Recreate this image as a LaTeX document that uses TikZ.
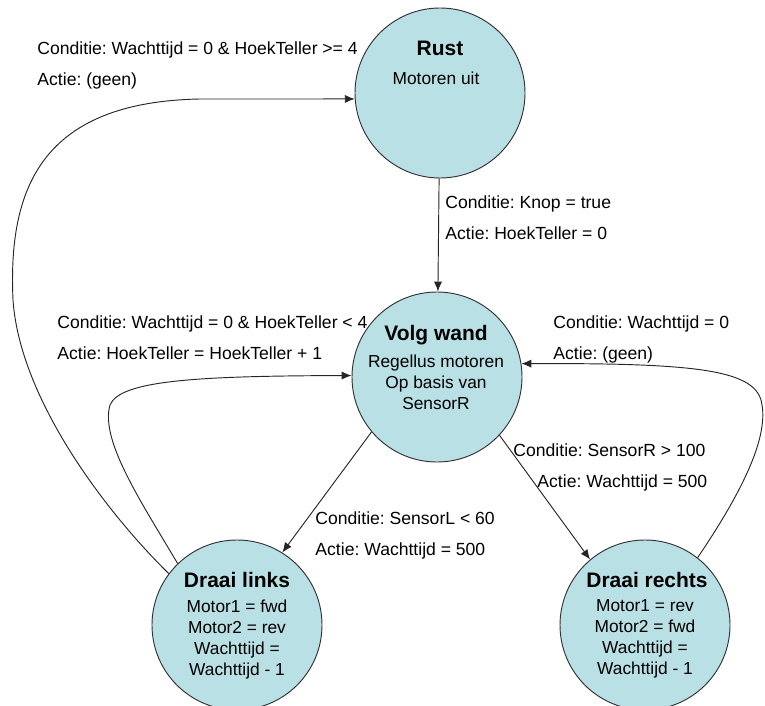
\documentclass[tikz,border=0pt]{standalone}
\usepackage{fontspec}
\setmainfont{Liberation Sans}
\usetikzlibrary{arrows.meta}
\frenchspacing

\definecolor{toestandblauw}{RGB}{185,224,228}

\tikzset{
  toestand/.style={circle, draw=black!80, fill=toestandblauw, line width=0.8pt, minimum size=5.1cm, inner sep=0pt},
  titel/.style={font=\fontsize{17.9}{21}\selectfont\bfseries, inner sep=0pt, anchor=north},
  tekst/.style={font=\fontsize{14.8}{17.9}\selectfont, align=center, inner sep=0pt, anchor=north},
  overgang/.style={font=\fontsize{15}{26.4}\selectfont, align=left, inner sep=0pt, anchor=north west}
}

\begin{document}
\begin{tikzpicture}[x=0.03cm, y=-0.03cm, >={Latex[length=8.5pt, width=7pt]}, line width=0.8pt, draw=black!85]
\useasboundingbox (0,0) rectangle (765,705);

% Nodes
\node[toestand] (rust) at (440,93) {};
\node[toestand] (volg) at (437,377) {};
\node[toestand] (links) at (237,625) {};
\node[toestand] (rechts) at (645,625) {};

\node[titel] (rusttitel) at (440,40.3) {Rust};
\node[tekst] (rusttekst) at (436,71.5) {Motoren uit};
\node[titel] (volgtitel) at (436,325.3) {Volg wand};
\node[tekst] (volgtekst) at (436,354.5) {Regellus motoren\\Op basis van\\SensorR};
\node[titel] (linkstitel) at (237,572.3) {Draai links};
\node[tekst] (linkstekst) at (237,599.5) {Motor1 = fwd\\Motor2 = rev\\Wachttijd =\\Wachttijd - 1};
\node[titel] (rechtstitel) at (647,572.3) {Draai rechts};
\node[tekst] (rechtstekst) at (645,599.5) {Motor1 = rev\\Motor2 = fwd\\Wachttijd =\\Wachttijd - 1};

% Labels
\node[overgang] (klaar) at (37,41.5) {Conditie: Wachttijd = 0 \& HoekTeller >= 4\\Actie: (geen)};
\node[overgang] (knop) at (445,195.5) {Conditie: Knop = true\\Actie: HoekTeller = 0};
\node[overgang] (hoek) at (57,315.5) {Conditie: Wachttijd = 0 \& HoekTeller < 4\\Actie: HoekTeller = HoekTeller + 1};
\node[overgang] (terug) at (553,315.5) {Conditie: Wachttijd = 0\\Actie: (geen)};
\node[overgang] (sensorr) at (513,443.5) {Conditie: SensorR > 100\\\hspace*{0.72cm}Actie: Wachttijd = 500};
\node[overgang] (sensorl) at (315,511.5) {Conditie: SensorL < 60\\Actie: Wachttijd = 500};

% Arrows
\draw[->] (rust) -- (volg);
\draw[->] (links.143) .. controls (107,513) and (20,400) .. (13,300)
  .. controls (8,190) and (40,102) .. (200,99) -- (rust.184);
\draw[->] (links.134) .. controls (140,500) and (100,440) .. (110,405)
  .. controls (120,380) and (200,376) .. (volg.179);
\draw[->] (rechts.52) .. controls (740,495) and (768,440) .. (762,405)
  .. controls (758,370) and (700,363) .. (volg.9);
\draw[->] (volg.220) -- (links.58);
\draw[->] (volg.317) -- (rechts.130);

\end{tikzpicture}
\end{document}
